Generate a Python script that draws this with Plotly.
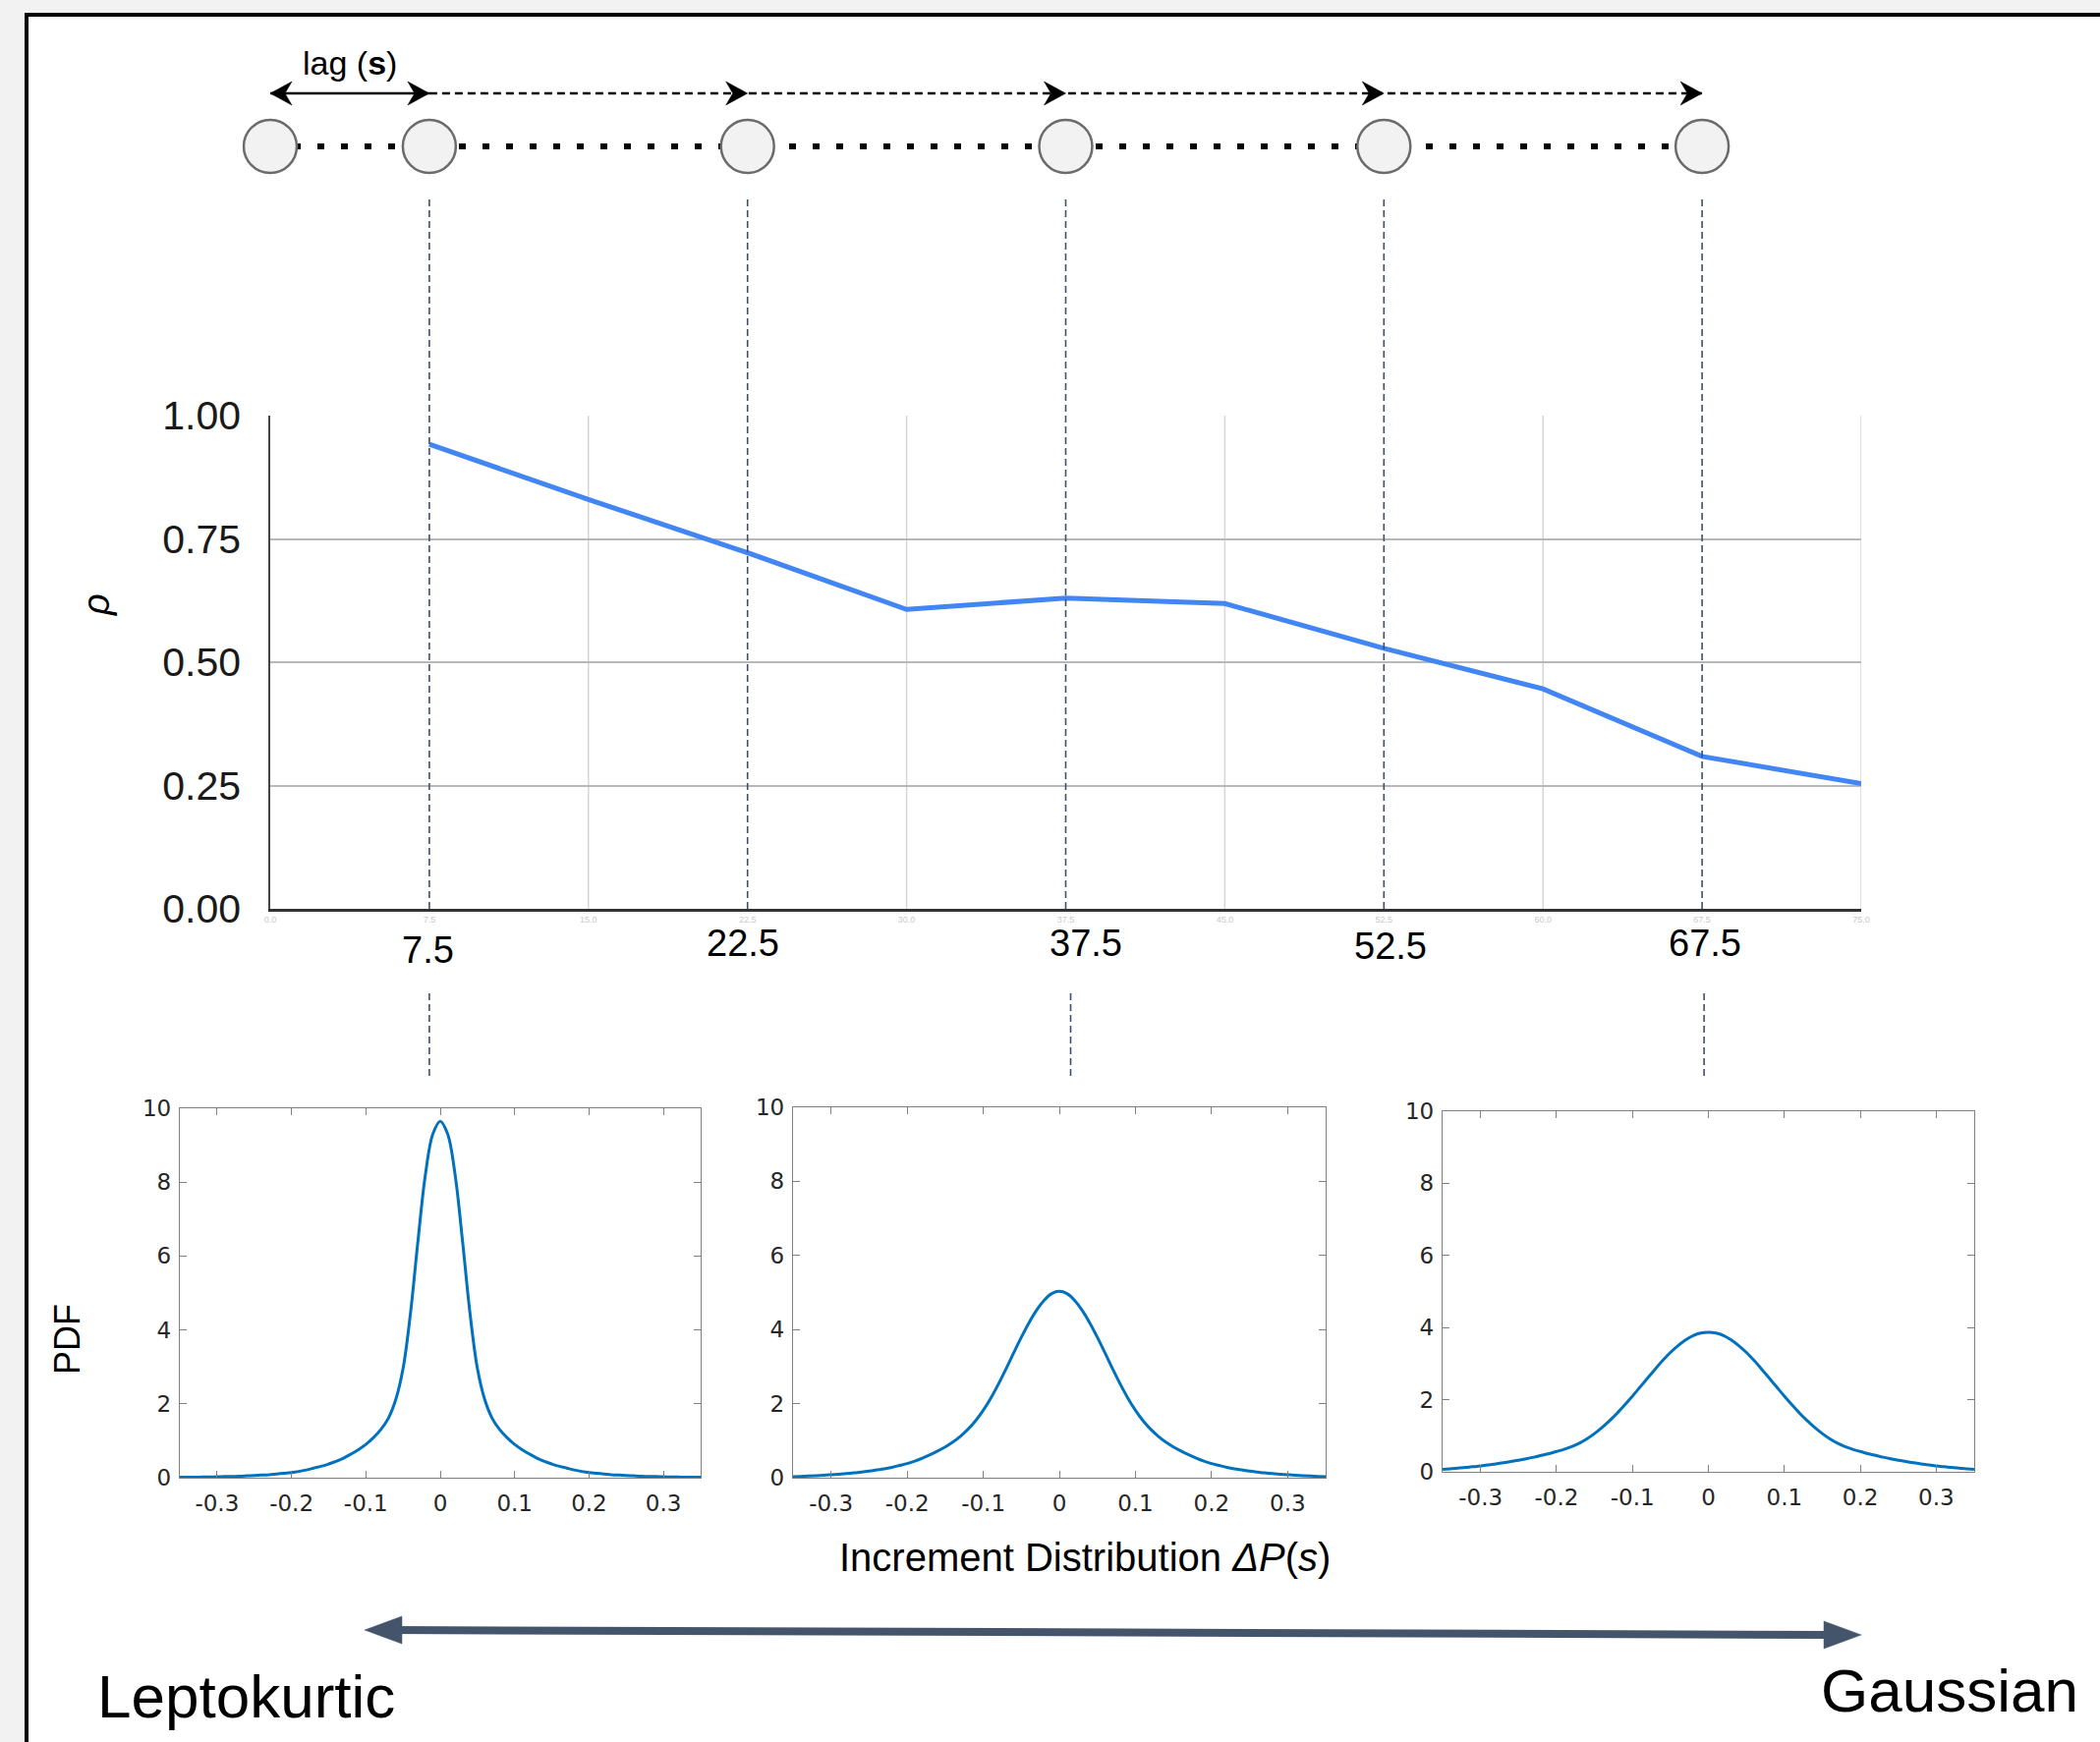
import plotly.graph_objects as go

W, H = 2137, 1773


def px(xp):
    return xp / W


def py(yp):
    return 1 - yp / H


# ---------------- data ----------------
lag_s = [7.5, 15.0, 22.5, 30.0, 37.5, 45.0, 52.5, 60.0, 67.5, 75.0]
rho = [0.942, 0.830, 0.722, 0.607, 0.630, 0.619, 0.528, 0.446, 0.309, 0.254]

rho_ticks = [0.0, 0.25, 0.5, 0.75, 1.0]
rho_tick_text = ["0.00", "0.25", "0.50", "0.75", "1.00"]
lag_ticks = [0.0, 7.5, 15.0, 22.5, 30.0, 37.5, 45.0, 52.5, 60.0, 67.5, 75.0]
lag_tick_text = ["0.0", "7.5", "15.0", "22.5", "30.0", "37.5", "45.0", "52.5", "60.0", "67.5", "75.0"]
lag_grid = [15.0, 30.0, 45.0, 60.0, 75.0]

node_lags = [0.0, 7.5, 22.5, 37.5, 52.5, 67.5]
node_row = [0, 0, 0, 0, 0, 0]
arrow_row = [1, 1, 1, 1, 1]
marked_lags = [7.5, 22.5, 37.5, 52.5, 67.5]
marked_labels = ["7.5", "22.5", "37.5", "52.5", "67.5"]
pdf_lags = [7.5, 37.5, 67.5]

inc_ticks = [-0.3, -0.2, -0.1, 0.0, 0.1, 0.2, 0.3]
inc_tick_text = ["-0.3", "-0.2", "-0.1", "0", "0.1", "0.2", "0.3"]
pdf_ticks = [0, 2, 4, 6, 8, 10]

increments = [-0.35, -0.34, -0.33, -0.32, -0.31, -0.30, -0.29, -0.28, -0.27, -0.26,
              -0.25, -0.24, -0.23, -0.22, -0.21, -0.20, -0.19, -0.18, -0.17, -0.16,
              -0.15, -0.14, -0.13, -0.12, -0.11, -0.10, -0.09, -0.08, -0.07, -0.06,
              -0.05, -0.04, -0.03, -0.02, -0.01, 0.0,
              0.01, 0.02, 0.03, 0.04, 0.05, 0.06, 0.07, 0.08, 0.09, 0.10,
              0.11, 0.12, 0.13, 0.14, 0.15, 0.16, 0.17, 0.18, 0.19, 0.20,
              0.21, 0.22, 0.23, 0.24, 0.25, 0.26, 0.27, 0.28, 0.29, 0.30,
              0.31, 0.32, 0.33, 0.34, 0.35]

pdf_lag_7_5 = [0.010, 0.012, 0.015, 0.018, 0.020, 0.025, 0.030, 0.035, 0.040, 0.050,
               0.060, 0.070, 0.080, 0.100, 0.120, 0.140, 0.170, 0.210, 0.260, 0.310,
               0.370, 0.440, 0.530, 0.640, 0.760, 0.900, 1.080, 1.300, 1.600, 2.100,
               2.950, 4.450, 6.400, 8.200, 9.300, 9.650,
               9.300, 8.200, 6.400, 4.450, 2.950, 2.100, 1.600, 1.300, 1.080, 0.900,
               0.760, 0.640, 0.530, 0.440, 0.370, 0.310, 0.260, 0.210, 0.170, 0.140,
               0.120, 0.100, 0.080, 0.070, 0.060, 0.050, 0.040, 0.035, 0.030, 0.025,
               0.020, 0.018, 0.015, 0.012, 0.010]

pdf_lag_37_5 = [0.028, 0.035, 0.045, 0.055, 0.066, 0.080, 0.095, 0.110, 0.130, 0.155,
                0.180, 0.210, 0.240, 0.280, 0.330, 0.380, 0.450, 0.530, 0.620, 0.720,
                0.830, 0.960, 1.120, 1.310, 1.540, 1.820, 2.150, 2.530, 2.940, 3.370,
                3.790, 4.180, 4.520, 4.790, 4.970, 5.030,
                4.970, 4.790, 4.520, 4.180, 3.790, 3.370, 2.940, 2.530, 2.150, 1.820,
                1.540, 1.310, 1.120, 0.960, 0.830, 0.720, 0.620, 0.530, 0.450, 0.380,
                0.330, 0.280, 0.240, 0.210, 0.180, 0.155, 0.130, 0.110, 0.095, 0.080,
                0.066, 0.055, 0.045, 0.035, 0.028]

pdf_lag_67_5 = [0.070, 0.085, 0.100, 0.120, 0.140, 0.165, 0.190, 0.220, 0.250, 0.285,
                0.320, 0.360, 0.405, 0.455, 0.505, 0.565, 0.625, 0.700, 0.795, 0.915,
                1.060, 1.230, 1.420, 1.630, 1.860, 2.100, 2.350, 2.600, 2.850, 3.090,
                3.310, 3.500, 3.660, 3.780, 3.850, 3.870,
                3.850, 3.780, 3.660, 3.500, 3.310, 3.090, 2.850, 2.600, 2.350, 2.100,
                1.860, 1.630, 1.420, 1.230, 1.060, 0.915, 0.795, 0.700, 0.625, 0.565,
                0.505, 0.455, 0.405, 0.360, 0.320, 0.285, 0.250, 0.220, 0.190, 0.165,
                0.140, 0.120, 0.100, 0.085, 0.070]

pdf_series = [pdf_lag_7_5, pdf_lag_37_5, pdf_lag_67_5]

# ---------------- styles ----------------
SANS = "Liberation Sans, Arial, Helvetica, sans-serif"
MATLAB_FONT = "DejaVu Sans, sans-serif"
LINK_COLOR = "#3d4f6b"
ARROW_COLOR = "#44546a"
label_xshift = [-1, -5, 20, 7, 3]
label_yshift = [-6, 1, 1, -2, 1]
lower_link_xshift = [0, 5, 2]

fig = go.Figure()

# main autocorrelation line
fig.add_trace(go.Scatter(x=lag_s, y=rho, mode="lines", xaxis="x", yaxis="y",
                         line=dict(color="#4285F4", width=5), hoverinfo="skip", showlegend=False))

# diagram: nodes with dotted connection
fig.add_trace(go.Scatter(x=node_lags, y=node_row, mode="lines+markers", xaxis="x5", yaxis="y5",
                         line=dict(color="black", width=6, dash="7px,17px"),
                         marker=dict(size=54, color="#f2f2f2", line=dict(color="#6b6b6b", width=2.5)),
                         cliponaxis=False, hoverinfo="skip", showlegend=False))
# diagram: dashed lag arrow row
fig.add_trace(go.Scatter(x=node_lags[1:], y=arrow_row, mode="lines", xaxis="x5", yaxis="y5",
                         line=dict(color="black", width=2.5, dash="8px,5px"),
                         hoverinfo="skip", showlegend=False))
fig.add_trace(go.Scatter(x=node_lags[:2], y=arrow_row[:2], mode="lines", xaxis="x5", yaxis="y5",
                         line=dict(color="black", width=2.5),
                         hoverinfo="skip", showlegend=False))

# pdf panels
for i, ys in enumerate(pdf_series):
    fig.add_trace(go.Scatter(x=increments, y=ys, mode="lines", xaxis=f"x{i + 2}", yaxis=f"y{i + 2}",
                             line=dict(color="#0072BD", width=3, shape="spline", smoothing=1.0),
                             hoverinfo="skip", showlegend=False))

main_xdom = [px(275), px(1894)]
panel_x = [[px(183), px(713)], [px(807), px(1349)], [px(1468), px(2009)]]
panel_y = [[py(1504), py(1128)], [py(1504), py(1127)], [py(1498), py(1131)]]

layout = dict(
    width=W, height=H, margin=dict(l=0, r=0, t=0, b=0, pad=0, autoexpand=False),
    paper_bgcolor="#f2f2f2", plot_bgcolor="white", showlegend=False,
    font=dict(family=SANS, color="black"),
    xaxis=dict(domain=main_xdom, range=[0, 75], tickvals=lag_ticks, ticktext=lag_tick_text,
               tickfont=dict(size=9, color="#c9c9c9"), showgrid=False, zeroline=False,
               showline=True, linecolor="#333333", linewidth=3, ticks="", anchor="y",
               automargin=False),
    yaxis=dict(domain=[py(925), py(423)], range=[0, 1], tickvals=rho_ticks, ticktext=rho_tick_text,
               tickfont=dict(size=41, color="#1a1a1a", family=SANS), showgrid=True,
               gridcolor="#b8b8b8", gridwidth=2, zeroline=False, showline=True,
               linecolor="#444444", linewidth=1.5, ticks="", ticklabelstandoff=20, anchor="x",
               automargin=False),
    xaxis5=dict(domain=main_xdom, range=[0, 75], visible=False, anchor="y5", automargin=False),
    yaxis5=dict(domain=[py(176), py(68)], range=[-0.5, 1.5], visible=False, anchor="x5",
                automargin=False),
)
for i in range(3):
    n = i + 2
    layout[f"xaxis{n}"] = dict(domain=panel_x[i], range=[-0.35, 0.35], tickvals=inc_ticks,
                               ticktext=inc_tick_text, ticks="inside", ticklen=7, tickwidth=1,
                               tickcolor="#7f7f7f", showline=True, mirror="ticks",
                               linecolor="#7f7f7f", linewidth=1.3, showgrid=False, zeroline=False,
                               tickfont=dict(family=MATLAB_FONT, size=23, color="#262626"),
                               ticklabelstandoff=5, anchor=f"y{n}", automargin=False)
    layout[f"yaxis{n}"] = dict(domain=panel_y[i], range=[0, 10], tickvals=pdf_ticks,
                               ticks="inside", ticklen=7, tickwidth=1, tickcolor="#7f7f7f",
                               showline=True, mirror="ticks", linecolor="#7f7f7f", linewidth=1.3,
                               showgrid=False, zeroline=False,
                               tickfont=dict(family=MATLAB_FONT, size=23, color="#262626"),
                               ticklabelstandoff=3, anchor=f"x{n}", automargin=False)

shapes = []
# white framed panel
shapes.append(dict(type="rect", xref="paper", yref="paper", x0=px(27), x1=1.05, y0=-0.05, y1=py(15),
                   line=dict(color="black", width=4), fillcolor="white", layer="below"))
# light vertical gridlines
for g in lag_grid:
    shapes.append(dict(type="line", xref="x", yref="y", x0=g, x1=g, y0=0, y1=1,
                       line=dict(color="#d6d6d6", width=1.5), layer="below"))
# dashed links from nodes down through the chart
for l in marked_lags:
    shapes.append(dict(type="line", xref="x", yref="paper", x0=l, x1=l, y0=py(925), y1=py(200),
                       line=dict(color=LINK_COLOR, width=1.6, dash="7px,4px"), layer="above"))
for l, s in zip(pdf_lags, lower_link_xshift):
    shapes.append(dict(type="line", xref="x", yref="paper", xsizemode="pixel", xanchor=l, x0=s, x1=s,
                       y0=py(1095), y1=py(1009),
                       line=dict(color=LINK_COLOR, width=1.6, dash="7px,4px"), layer="above"))
# arrowheads of lag row
for l in marked_lags:
    shapes.append(dict(type="path", xref="x5", yref="y5", xsizemode="pixel", ysizemode="pixel",
                       xanchor=l, yanchor=1, path="M0,0 L-22,12 L-15,0 L-22,-12 Z",
                       fillcolor="black", line=dict(color="black", width=0.5)))
shapes.append(dict(type="path", xref="x5", yref="y5", xsizemode="pixel", ysizemode="pixel",
                   xanchor=node_lags[0], yanchor=1, path="M0,0 L22,12 L15,0 L22,-12 Z",
                   fillcolor="black", line=dict(color="black", width=0.5)))
# big leptokurtic <-> gaussian arrow
shapes.append(dict(type="line", xref="paper", yref="paper", x0=px(395), y0=py(1659), x1=px(1870), y1=py(1664),
                   line=dict(color=ARROW_COLOR, width=8)))
shapes.append(dict(type="path", xref="paper", yref="paper", xsizemode="pixel", ysizemode="pixel",
                   xanchor=px(371), yanchor=py(1659), path="M0,0 L38,14 L38,-14 Z",
                   fillcolor=ARROW_COLOR, line=dict(color=ARROW_COLOR, width=0.5)))
shapes.append(dict(type="path", xref="paper", yref="paper", xsizemode="pixel", ysizemode="pixel",
                   xanchor=px(1894), yanchor=py(1664), path="M0,0 L-38,14 L-38,-14 Z",
                   fillcolor=ARROW_COLOR, line=dict(color=ARROW_COLOR, width=0.5)))
layout["shapes"] = shapes

C = dict(showarrow=False, xanchor="center", yanchor="middle")
ann = []
ann.append(dict(x=(node_lags[0] + node_lags[1]) / 2, xref="x", y=py(64), yref="paper",
                text="lag (<b>s</b>)", font=dict(size=34, family=SANS), **C))
for l, t, xs, ys in zip(marked_lags, marked_labels, label_xshift, label_yshift):
    ann.append(dict(x=l, xref="x", y=py(961), yref="paper", text=t, xshift=xs, yshift=ys,
                    font=dict(size=38, family=SANS), **C))
ann.append(dict(x=px(98), y=py(616), xref="paper", yref="paper", text="<i>ρ</i>", textangle=-90,
                font=dict(size=38, family=SANS), **C))
ann.append(dict(x=px(68), y=py(1363), xref="paper", yref="paper", text="PDF", textangle=-90,
                font=dict(size=36, family=SANS), **C))
ann.append(dict(x=px(1104), y=py(1585), xref="paper", yref="paper",
                text="Increment Distribution <i>ΔP</i>(<i>s</i>)",
                font=dict(size=40, family=SANS), **C))
ann.append(dict(x=px(250), y=py(1726), xref="paper", yref="paper", text="Leptokurtic",
                font=dict(size=62, family=SANS), **C))
ann.append(dict(x=px(1984), y=py(1720), xref="paper", yref="paper", text="Gaussian",
                font=dict(size=62, family=SANS), **C))
layout["annotations"] = ann

fig.update_layout(**layout)

fig.write_html("out.html", config={"displayModeBar": False},
               post_script="document.body.style.margin='0';document.body.style.overflow='hidden';")
